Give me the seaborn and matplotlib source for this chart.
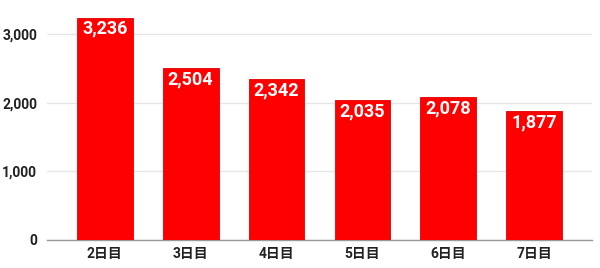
import matplotlib
matplotlib.use("Agg")
import matplotlib.pyplot as plt
import seaborn as sns
import pandas as pd
from matplotlib.ticker import FuncFormatter

categories = ["2日目", "3日目", "4日目", "5日目", "6日目", "7日目"]
values = [3236, 2504, 2342, 2035, 2078, 1877]
yticks = [0, 1000, 2000, 3000]

sns.set_theme(style="white")
plt.rcParams['font.family'] = ['Roboto', 'Noto Sans CJK JP', 'DejaVu Sans']

df = pd.DataFrame({"day": categories, "count": values})

fig = plt.figure(figsize=(6.0, 2.68), dpi=100)
ax = fig.add_axes([0.078, 0.1045, 0.909, 0.8715])

sns.barplot(data=df, x="day", y="count", color="#ff0000", saturation=1,
            width=0.65, ax=ax, zorder=3, edgecolor="#e00000", linewidth=0.6)

ax.set_xlim(-0.674, len(categories) - 1 + 0.674)
ax.set_ylim(0, 3400)
ax.set_yticks(yticks)
ax.yaxis.set_major_formatter(FuncFormatter(lambda v, p: f"{int(v):,}"))
ax.grid(axis="y", color="#e6e6e6", linewidth=1, zorder=0)
ax.set_xlabel("")
ax.set_ylabel("")
for s in ["top", "right", "left"]:
    ax.spines[s].set_visible(False)
ax.spines["bottom"].set_color("#999999")
ax.spines["bottom"].set_linewidth(1)
ax.tick_params(axis="both", length=0, labelsize=10, labelcolor="#222222")
ax.tick_params(axis="y", pad=7)
ax.tick_params(axis="x", pad=5)
for lbl in ax.get_xticklabels() + ax.get_yticklabels():
    lbl.set_fontweight("bold")

for c in ax.containers:
    ax.bar_label(c, labels=[f"{v:,}" for v in values], label_type="edge",
                 padding=-14.5, color="white", fontsize=13, fontweight="bold")

fig.savefig("out.png", dpi=100)
